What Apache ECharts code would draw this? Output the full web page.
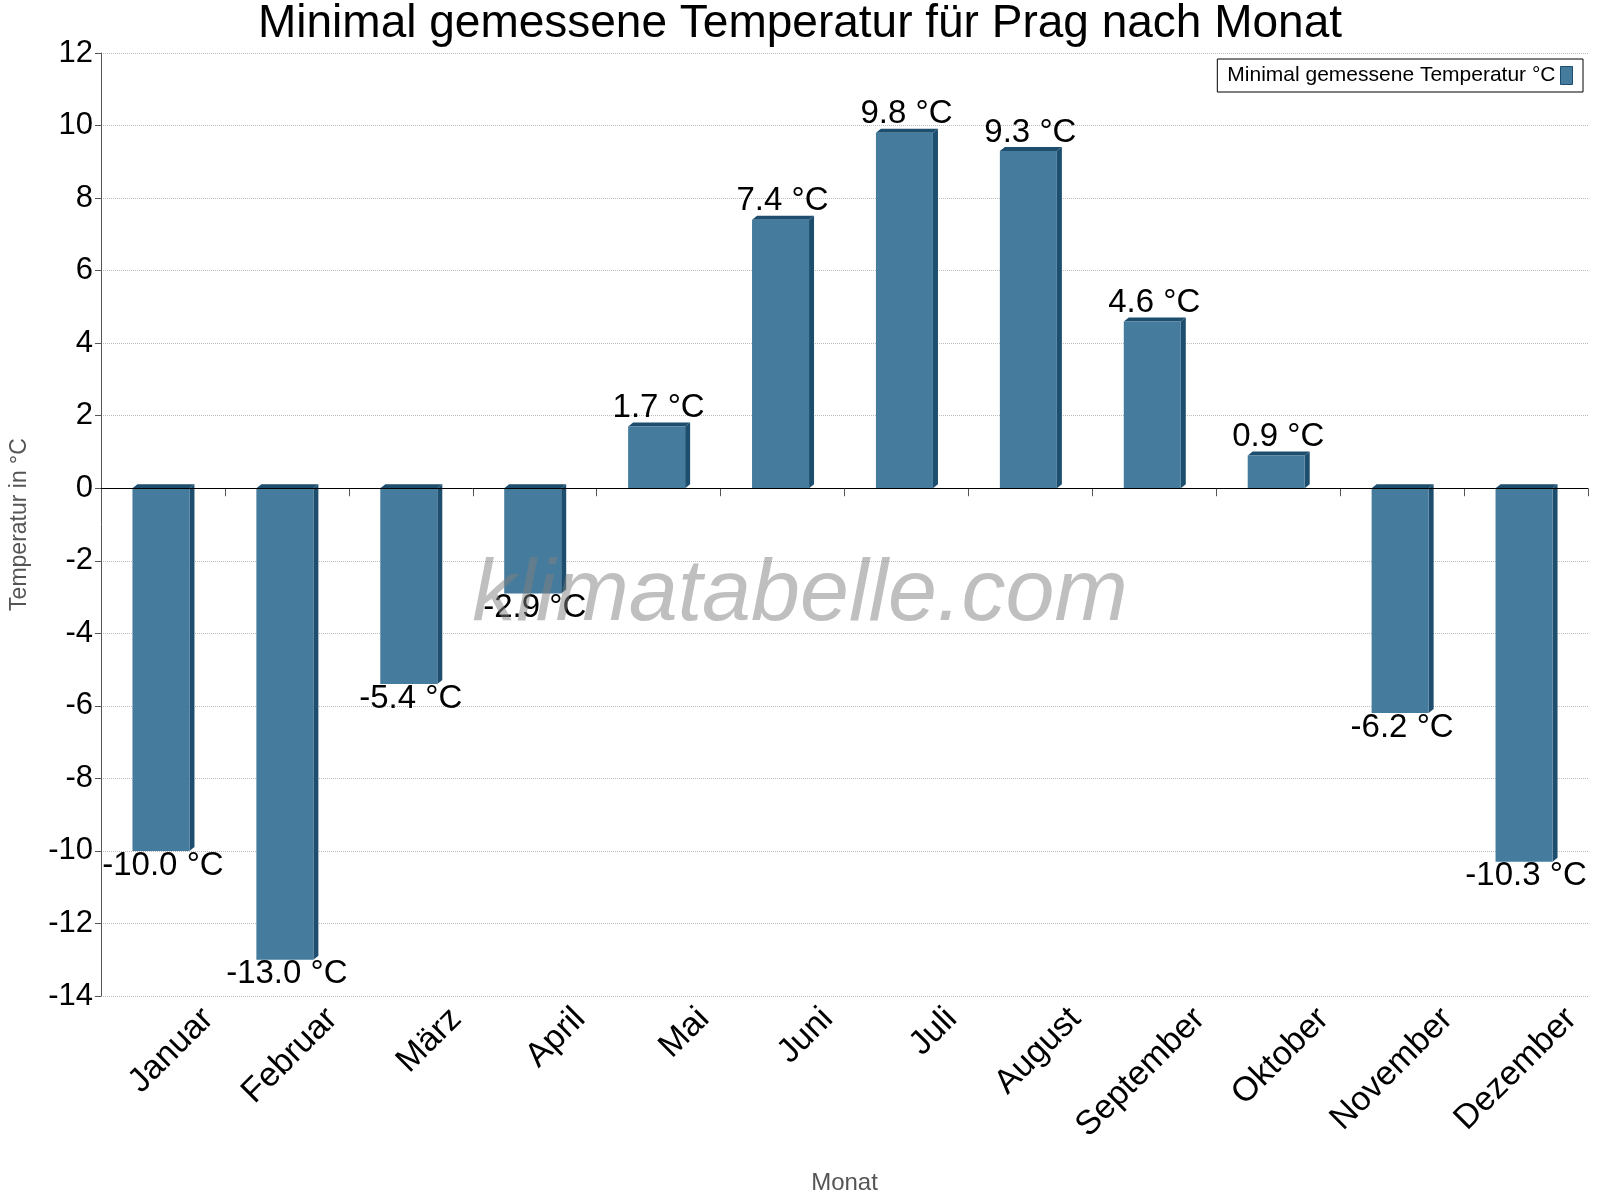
<!DOCTYPE html>
<html><head><meta charset="utf-8">
<script src="https://cdn.jsdelivr.net/npm/echarts@6/dist/echarts.min.js"></script>
<style>html,body{margin:0;padding:0;background:#fff}#c{width:1600px;height:1200px}</style>
</head><body><div id="c"></div>
<script>
const categories=['Januar','Februar','März','April','Mai','Juni','Juli','August','September','Oktober','November','Dezember'];
const values=[-10.0,-13.0,-5.4,-2.9,1.7,7.4,9.8,9.3,4.6,0.9,-6.2,-10.3];
const yTicks={min:-14,max:12,interval:2};
const chart=echarts.init(document.getElementById('c'));
const F='Liberation Sans, Arial, sans-serif';
chart.setOption({
 animation:false,
 title:{text:'Minimal gemessene Temperatur für Prag nach Monat',left:'center',top:-4,textStyle:{fontFamily:F,fontSize:46,fontWeight:'normal',color:'#000'}},
 legend:{data:[{name:'Minimal gemessene Temperatur °C',icon:'rect',itemStyle:{borderColor:'#1d4e6e',borderWidth:1}}],orient:'vertical',right:17,top:59,align:'right',itemWidth:12,itemHeight:18,borderColor:'#000',borderWidth:1,borderRadius:0,padding:[6,10],textStyle:{fontFamily:F,fontSize:21,color:'#000'}},
 grid:{left:95,right:12,top:53,bottom:189},
 graphic:[{type:'text',left:'center',top:552,z:100,style:{text:'klimatabelle.com',fontFamily:F,fontSize:88,fontStyle:'italic',fill:'rgba(128,128,128,0.5)'}}],
 xAxis:{type:'category',data:categories,name:'Monat',nameLocation:'middle',nameGap:175,nameTextStyle:{fontFamily:F,fontSize:24,color:'#555'},
  axisLine:{show:false},axisTick:{show:true,alignWithLabel:false,length:8,lineStyle:{color:'#555'}},
  axisLabel:{rotate:45,fontFamily:F,fontSize:34,color:'#000',margin:63,padding:[0,-64,0,0]}},
 yAxis:{type:'value',min:yTicks.min,max:yTicks.max,interval:yTicks.interval,name:'Temperatur in °C',nameLocation:'middle',nameGap:70,nameTextStyle:{fontFamily:F,fontSize:23,color:'#555'},
  axisLine:{show:true,lineStyle:{color:'#555'}},axisTick:{show:true,length:6},
  axisLabel:{fontFamily:F,fontSize:31,color:'#000'},
  splitLine:{lineStyle:{type:'dotted',color:'#bbb'}}},
 series:[{name:'Minimal gemessene Temperatur °C',type:'custom',itemStyle:{color:'#457b9d'},
  data:values.map((v,i)=>[i,v]),
  markLine:{silent:true,symbol:'none',label:{show:false},lineStyle:{color:'#000',width:1,type:'solid'},data:[{yAxis:0}]},
  renderItem:(params,api)=>{
   const i=api.value(0),v=api.value(1);
   const p0=api.coord([i,0]),p1=api.coord([i,v]);
   const w=api.size([1,0])[0]*0.46,d=5;
   const x=p0[0]-w/2-2;
   const top=Math.min(p0[1],p1[1]),bot=Math.max(p0[1],p1[1]);
   const txt=v.toFixed(1)+' °C';
   const ly=p1[1]-2;
   return {type:'group',children:[
    {type:'polygon',shape:{points:[[x+w,top],[x+w+d,top-4],[x+w+d,bot-4],[x+w,bot]]},style:{fill:'#1d4e6e'}},
    {type:'polygon',shape:{points:[[x,top],[x+d,top-4],[x+w+d,top-4],[x+w,top]]},style:{fill:'#1d4e6e'}},
    {type:'rect',shape:{x:x,y:top,width:w,height:bot-top},style:{fill:'#457b9d'}},
    {type:'text',x:x+w/2+2,y:ly,style:{text:txt,fontFamily:F,fontSize:33,fill:'#000',align:'center',verticalAlign:v>=0?'bottom':'top'}}
   ]};
  }}]
});
</script></body></html>
